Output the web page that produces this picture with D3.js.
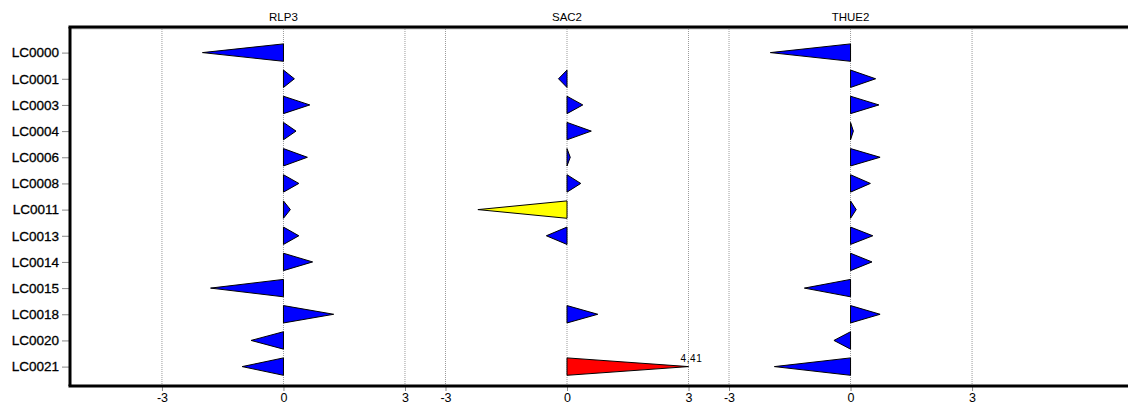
<!DOCTYPE html>
<html>
<head>
<meta charset="utf-8">
<script src="https://cdn.jsdelivr.net/npm/d3@7"></script>
<style>
  html, body { margin: 0; padding: 0; background: #fff; }
  svg text { font-family: "Liberation Sans", Arial, Helvetica, sans-serif; fill: #000; }
</style>
</head>
<body>
<svg id="chart" width="1128" height="405"></svg>
<script>
// Row labels (top to bottom)
const rows = ["LC0000","LC0001","LC0003","LC0004","LC0006","LC0008","LC0011",
              "LC0013","LC0014","LC0015","LC0018","LC0020","LC0021"];

// Column headings
const columns = ["RLP3", "SAC2", "THUE2"];

// Values per column, one per row (null = no value)
const rlp3  = [-2.00, 0.27, 0.65, 0.31, 0.59, 0.38, 0.17, 0.38, 0.72, -1.80, 1.24, -0.80, -1.02];
const sac2  = [null, -0.21, 0.39, 0.60, 0.08, 0.34, -2.20, -0.51, null, null, 0.76, null, 4.41];
const thue2 = [-1.98, 0.62, 0.70, 0.07, 0.73, 0.49, 0.14, 0.55, 0.53, -1.14, 0.73, -0.41, -1.88];

// Ticks shown under each column
const tickValues = [-3, 0, 3];

const series = [rlp3, sac2, thue2];

// Display limits: values past the cap are drawn at the cap and labelled
const upperCap = 3;
const lowFlag = -2.1;

const svg = d3.select("#chart");
const W = 1128, H = 405;
const plotLeft = 70, plotTop = 27, plotBottom = 386;

// One continuous axis; each column is shifted by a fixed step
const step = 7;
const x = d3.scaleLinear().domain([-5.27, 20.85]).range([plotLeft, W]);
const y = d3.scalePoint().domain(rows).range([52.6, 366.6]);
const halfH = 8.7;

const fmt = d3.formatLocale({decimal: ",", thousands: ".", grouping: [3], currency: ["", ""]}).format(".2f");

// Gridlines and bottom ticks
const allTicks = [];
columns.forEach((c, i) => tickValues.forEach(t => allTicks.push({t, v: t + i * step})));

svg.append("g").selectAll("line").data(allTicks).join("line")
  .attr("x1", d => x(d.v)).attr("x2", d => x(d.v))
  .attr("y1", plotTop + 2).attr("y2", plotBottom)
  .attr("stroke", "#9a9a9a").attr("stroke-width", 1)
  .attr("stroke-dasharray", "1,1");

// Bottom axis with ticks under every column
const xAxis = d3.axisBottom(x)
  .tickValues(allTicks.map(d => d.v))
  .tickFormat((v, i) => String(allTicks[i].t))
  .tickSize(5).tickPadding(4);
const gx = svg.append("g").attr("transform", `translate(0,${plotBottom})`).call(xAxis);
gx.select(".domain").remove();
gx.selectAll(".tick line").attr("stroke", "#888");
gx.selectAll(".tick text").attr("font-size", 12.5).attr("y", 15.5).attr("dy", 0);

// Left axis with row labels
const yAxis = d3.axisLeft(y).tickSize(7).tickPadding(3);
const gy = svg.append("g").attr("transform", `translate(${plotLeft - 1},0)`).call(yAxis);
gy.select(".domain").remove();
gy.selectAll(".tick line").attr("stroke", "#888");
gy.selectAll(".tick text").attr("font-size", 13.5)
  .attr("stroke", "#000").attr("stroke-width", 0.3);

// Frame: top, bottom and left rules
svg.append("line").attr("x1", plotLeft).attr("x2", W).attr("y1", plotTop + 1.8).attr("y2", plotTop + 1.8)
  .attr("stroke", "#aaa").attr("stroke-width", 1);
svg.append("line").attr("x1", plotLeft - 1.5).attr("x2", W).attr("y1", plotTop).attr("y2", plotTop)
  .attr("stroke", "#000").attr("stroke-width", 3);
svg.append("line").attr("x1", plotLeft - 1.5).attr("x2", W).attr("y1", plotBottom).attr("y2", plotBottom)
  .attr("stroke", "#000").attr("stroke-width", 3);
svg.append("line").attr("x1", plotLeft).attr("x2", plotLeft).attr("y1", plotTop).attr("y2", plotBottom)
  .attr("stroke", "#000").attr("stroke-width", 3);

// Column headings centred over each zero
svg.append("g").selectAll("text").data(columns).join("text")
  .attr("x", (d, i) => x(i * step)).attr("y", 20.5)
  .attr("text-anchor", "middle").attr("font-size", 11.5)
  .text(d => d);

// Triangles: base on the column's zero line, apex at the value
const marks = [];
series.forEach((vals, ci) => vals.forEach((v, ri) => {
  if (v === null) return;
  marks.push({ci, row: rows[ri], v, shown: Math.min(v, upperCap)});
}));

const colour = d => d.v > upperCap ? "#ff0000" : (d.v < lowFlag ? "#ffff00" : "#0000ff");

svg.append("g").selectAll("path").data(marks).join("path")
  .attr("d", d => {
    const x0 = x(d.ci * step), x1 = x(d.ci * step + d.shown), yc = y(d.row);
    return `M${x0},${yc - halfH}L${x1},${yc}L${x0},${yc + halfH}Z`;
  })
  .attr("fill", colour)
  .attr("stroke", "#000").attr("stroke-width", 1).attr("stroke-linejoin", "miter");

// Value labels for capped marks
svg.append("g").selectAll("text").data(marks.filter(d => d.v > upperCap)).join("text")
  .attr("x", d => x(d.ci * step + d.shown) + 3).attr("y", d => y(d.row) - 5)
  .attr("text-anchor", "middle").attr("font-size", 10).attr("letter-spacing", "0.6")
  .text(d => fmt(d.v));
</script>
</body>
</html>
